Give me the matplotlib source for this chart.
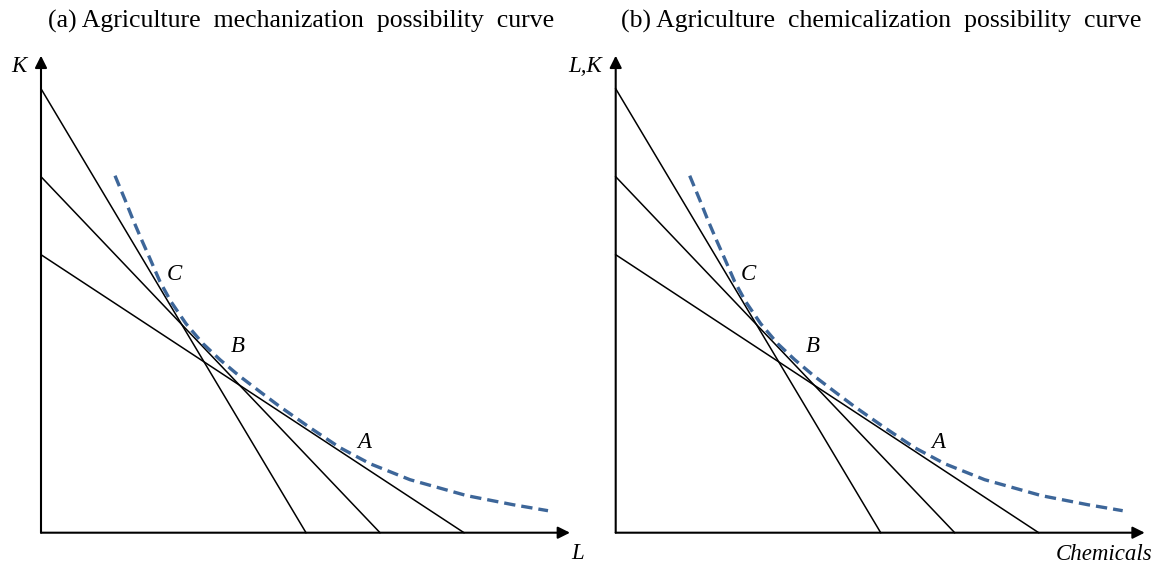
import matplotlib.pyplot as plt

plt.rcParams['font.family'] = ['Liberation Serif', 'DejaVu Serif']

# intercepts of the three isocost lines (vertical axis, horizontal axis)
iso_y0 = [44.4, 35.6, 27.8]
iso_x0 = [26.5, 33.9, 42.3]

# possibility curve read along its length
curve_x = [7.4, 8.4, 9.2, 10.1, 10.9, 11.9, 13.0, 14.5, 16.2, 17.9,
           19.8, 21.9, 23.9, 26.9, 29.9, 32.9, 36.9, 42.6, 47.2, 50.7]
curve_y = [35.7, 33.3, 31.3, 29.2, 27.4, 25.1, 23.1, 20.9, 18.9, 17.3,
           15.7, 14.1, 12.6, 10.5, 8.5, 6.9, 5.3, 3.7, 2.8, 2.2]

titles = ['(a) Agriculture  mechanization  possibility  curve',
          '(b) Agriculture  chemicalization  possibility  curve']
y_names = ['K', 'L,K']
x_names = ['L', 'Chemicals']
points = ['C', 'B', 'A']
points_xy = [(13.3, 25.8), (19.7, 18.6), (32.3, 9.0)]

fig = plt.figure(figsize=(11.6, 5.68), dpi=100)

def panel(left, title_x, title, yname, xname):
    ax = fig.add_axes([left, 0.0, 0.5, 528 / 568])
    ax.set_xlim(-4.1, 53.9)
    ax.set_ylim(-3.53, 49.27)
    ax.axis('off')

    # axes with arrow heads
    arr = dict(arrowstyle='-|>', mutation_scale=18, lw=1.5, color='k',
               shrinkA=0, shrinkB=0)
    ax.annotate('', xy=(52.9, 0), xytext=(0, 0), arrowprops=arr)
    ax.annotate('', xy=(0, 47.7), xytext=(0, 0), arrowprops=arr)

    for y0, x0 in zip(iso_y0, iso_x0):
        ax.plot([0, x0], [y0, 0], color='k', lw=1.1)

    ax.plot(curve_x, curve_y, color='#3d6699', lw=2.4, ls=(0, (3.4, 1.8)))

    for name, (px, py) in zip(points, points_xy):
        ax.text(px, py, name, style='italic', fontsize=16.5, ha='center', va='center')

    ax.text(-1.4, 46.6, yname, style='italic', fontsize=16.5, ha='right', va='center')
    if xname == 'L':
        ax.text(53.7, -2.1, xname, style='italic', fontsize=16.5, ha='center', va='center')
    else:
        ax.text(48.8, -2.2, xname, style='italic', fontsize=16.5, ha='center', va='center')

    fig.text(title_x, 0.962, title, fontsize=18.5, ha='center', va='center')
    return ax

panel(0.0, 301 / 1160, titles[0], y_names[0], x_names[0])
panel(574.7 / 1160, 881.5 / 1160, titles[1], y_names[1], x_names[1])

fig.savefig('out.png', dpi=100)
